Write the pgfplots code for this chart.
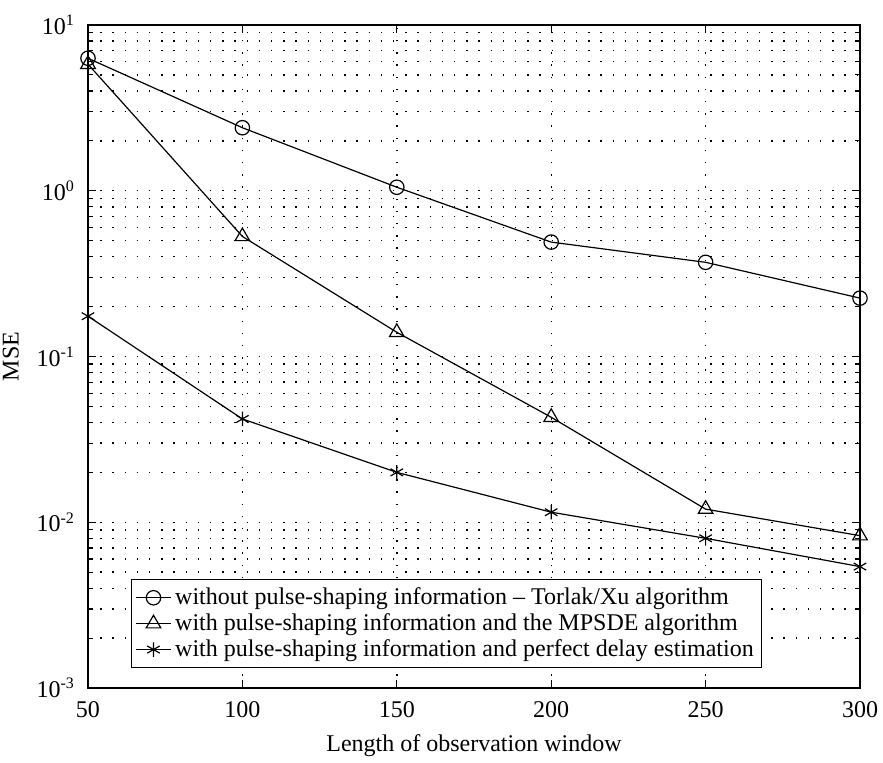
\documentclass[border=0pt]{standalone}
\usepackage{fontspec}
\setmainfont{Liberation Serif}
\usepackage{pgfplots}
\pgfplotsset{compat=1.18}
\usetikzlibrary{calc}
\begin{document}
\begin{tikzpicture}
\begin{axis}[
  name=ax, at={(0,0)}, anchor=south west,
  width=386pt, height=331.5pt, scale only axis,
  ymode=log, xmin=50, xmax=300, ymin=1e-3, ymax=10,
  xtick={50,100,150,200,250,300},
  ytick={0.001,0.01,0.1,1,10},
  yticklabels={10\textsuperscript{-3},10\textsuperscript{-2},10\textsuperscript{-1},10\textsuperscript{0},10\textsuperscript{1}},
  /pgf/number format/assume math mode=true,
  tick align=inside,
  major tick length=4pt, minor tick length=2.5pt,
  xmajorgrids, ymajorgrids, yminorgrids,
  grid style={black, line width=0.7pt, dash pattern=on 0.7pt off 5.4pt},
  minor grid style={black, line width=0.7pt, dash pattern=on 0.7pt off 5.4pt},
  axis line style={line width=0.8pt},
  tick style={black, line width=0.6pt},
  tick label style={font=\fontsize{12}{14}\selectfont},
  xticklabel style={yshift=-3pt},
  yticklabel style={xshift=-3pt},
  label style={font=\fontsize{12}{14}\selectfont},
  xlabel={Length of observation window},
  xlabel style={yshift=-2pt},
  ylabel={MSE},
  ylabel style={yshift=2pt},
  legend style={at={(0.056,0.03)}, anchor=south west, draw=black, line width=0.6pt,
    font=\fontsize{12}{14}\selectfont, row sep=-1pt, inner sep=2pt},
  legend cell align=left,
  every axis plot/.append style={black, line width=0.6pt},
]
\addplot[mark=o, mark size=3.6pt] coordinates {(50,6.3) (100,2.4) (150,1.05) (200,0.49) (250,0.37) (300,0.225)};
\addlegendentry{without pulse-shaping information -- Torlak/Xu algorithm}
\addplot[mark=triangle, mark size=4.2pt] coordinates {(50,5.8) (100,0.53) (150,0.14) (200,0.043) (250,0.012) (300,0.0083)};
\addlegendentry{with pulse-shaping information and the MPSDE algorithm}
\addplot[mark=asterisk, mark size=3.6pt] coordinates {(50,0.175) (100,0.042) (150,0.020) (200,0.0115) (250,0.008) (300,0.0054)};
\addlegendentry{with pulse-shaping information and perfect delay estimation}
\end{axis}
\pgfresetboundingbox
\path[use as bounding box] ($(ax.south west)+(-44pt,-37.5pt)$) rectangle ($(ax.north east)+(11.5pt,12.5pt)$);
\end{tikzpicture}
\end{document}
